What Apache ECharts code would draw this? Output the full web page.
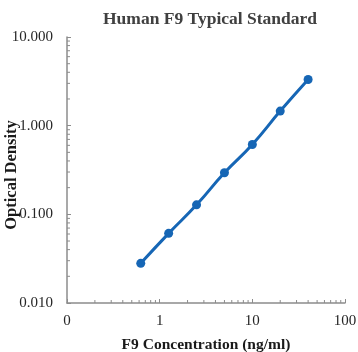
<!DOCTYPE html>
<html>
<head>
<meta charset="utf-8">
<script src="https://cdn.jsdelivr.net/npm/echarts@6/dist/echarts.min.js"></script>
<style>
  html, body { margin: 0; padding: 0; background: #fff; }
  #chart { width: 358px; height: 352px; }
</style>
</head>
<body>
<div id="chart"></div>
<script>
// standard curve readings
var concentration = [0.625, 1.25, 2.5, 5, 10, 20, 40];
var opticalDensity = [0.028, 0.061, 0.128, 0.294, 0.614, 1.46, 3.32];

// log minor tick positions (2..9 in each decade)
var xMinorTicks = [0.2, 0.3, 0.4, 0.5, 0.6, 0.7, 0.8, 0.9,
	2, 3, 4, 5, 6, 7, 8, 9,
	20, 30, 40, 50, 60, 70, 80, 90];
var yMinorTicks = [0.02, 0.03, 0.04, 0.05, 0.06, 0.07, 0.08, 0.09,
	0.2, 0.3, 0.4, 0.5, 0.6, 0.7, 0.8, 0.9,
	2, 3, 4, 5, 6, 7, 8, 9];

var serif = '"Liberation Serif", "Times New Roman", serif';
var axisGrey = '#8c8c8c';

var points = [];
for (var i = 0; i < concentration.length; i++) {
	points.push([concentration[i], opticalDensity[i]]);
}
var tickData = [];
xMinorTicks.forEach(function (v) { tickData.push([v, 0.01, 0]); });
yMinorTicks.forEach(function (v) { tickData.push([0.1, v, 1]); });

var option = {
	animation: false,
	title: {
		text: 'Human F9 Typical Standard',
		left: 205,
		top: 5,
		textAlign: 'center',
		textStyle: { fontFamily: serif, fontSize: 17.5, fontWeight: 'bold', color: '#404040' }
	},
	grid: { left: 67, right: 13, top: 37, bottom: 49, outerBoundsMode: 'none' },
	xAxis: {
		type: 'log',
		logBase: 10,
		min: 0.1,
		max: 100,
		name: 'F9 Concentration (ng/ml)',
		nameLocation: 'middle',
		nameGap: 34,
		nameMoveOverlap: false,
		nameTextStyle: { fontFamily: serif, fontSize: 15.5, fontWeight: 'bold', color: '#1a1a1a' },
		axisLine: { lineStyle: { color: axisGrey, width: 1.5 } },
		axisTick: { show: true, inside: true, length: 4, lineStyle: { color: axisGrey } },
		splitLine: { show: false },
		axisLabel: {
			fontFamily: serif, fontSize: 15, color: '#262626', margin: 11,
			formatter: function (v) { return v < 1 ? '0' : String(Math.round(v)); }
		}
	},
	yAxis: {
		type: 'log',
		logBase: 10,
		min: 0.01,
		max: 10,
		name: 'Optical Density',
		nameLocation: 'middle',
		nameGap: 47,
		nameMoveOverlap: false,
		nameTextStyle: {
			fontFamily: serif, fontSize: 16.5, fontWeight: 'bold', color: '#1a1a1a',
			padding: [0, 10, 0, 0]
		},
		axisLine: { show: true, lineStyle: { color: axisGrey, width: 1.5 } },
		axisTick: { show: true, inside: true, length: 4, lineStyle: { color: axisGrey } },
		splitLine: { show: false },
		axisLabel: {
			fontFamily: serif, fontSize: 15, color: '#262626', margin: 14,
			formatter: function (v) { return v.toFixed(3); }
		}
	},
	series: [{
		// minor ticks drawn at log positions
		type: 'custom',
		silent: true,
		clip: false,
		data: tickData,
		renderItem: function (params, api) {
			var p = api.coord([api.value(0), api.value(1)]);
			var vertical = api.value(2) === 1;
			return {
				type: 'line',
				shape: vertical
					? { x1: p[0], y1: p[1], x2: p[0] + 3, y2: p[1] }
					: { x1: p[0], y1: p[1], x2: p[0], y2: p[1] - 3 },
				style: { stroke: axisGrey, lineWidth: 1 }
			};
		}
	}, {
		type: 'line',
		data: points,
		smooth: true,
		symbol: 'circle',
		symbolSize: 9,
		lineStyle: { color: '#1666b5', width: 3 },
		itemStyle: { color: '#1666b5' }
	}]
};

var myChart = echarts.init(document.getElementById('chart'));
myChart.setOption(option);
</script>
</body>
</html>
